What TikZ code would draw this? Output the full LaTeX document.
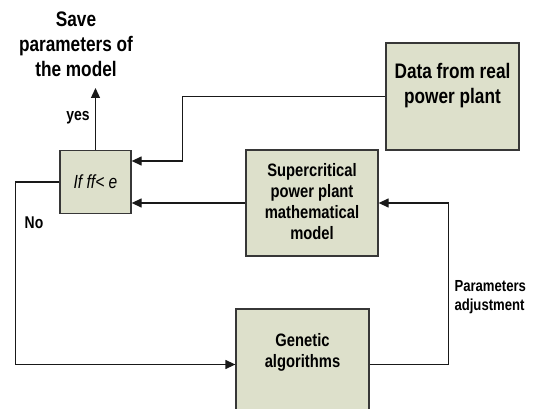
\documentclass[tikz,border=0pt]{standalone}
\usepackage{fontspec}
\setmainfont{Liberation Sans}[FakeStretch=0.82]
\usetikzlibrary{arrows.meta,calc}
\definecolor{boxfill}{RGB}{221,224,203}
\definecolor{boxline}{RGB}{55,55,55}
\tikzset{
  block/.style={draw=boxline, fill=boxfill, line width=1.3pt, inner sep=0pt},
  boxtext/.style={align=center, font=\bfseries\fontsize{18}{21}\selectfont},
  bigtext/.style={align=center, font=\bfseries\fontsize{21}{25}\selectfont},
  tag/.style={font=\bfseries\fontsize{17}{20}\selectfont},
  link/.style={line width=1.3pt, draw=black!90, -{Triangle[length=10pt,width=9pt]}},
}
\begin{document}
\begin{tikzpicture}[x=1pt, y=-1pt]
  \useasboundingbox (0,0) rectangle (538,409);
  \clip (0,0) rectangle (538,409);

  % process blocks
  \node[block, minimum width=71pt, minimum height=63pt] (ifbox) at (95.5,182)
    {\fontsize{19}{22}\selectfont\itshape If ff< e};
  \node[block, minimum width=133pt, minimum height=107pt] (data) at (452.5,96.5) {};
  \node[bigtext] (datatext) at (452.5,85.5) {Data from real\\power plant};
  \node[block, minimum width=132pt, minimum height=106pt] (model) at (312,203) {};
  \node[boxtext] (modeltext) at (312,201.5)
    {Supercritical\\power plant\\mathematical\\model};
  \node[block, minimum width=133pt, minimum height=111pt] (ga) at (302.5,364.5) {};
  \node[boxtext] (gatext) at (302.5,352.5) {Genetic\\algorithms};

  % free texts
  \node[bigtext] (save) at (76,44) {Save\\parameters of\\the model};
  \coordinate (yestip) at (95.5,88);
  \node[tag] (yes) at (78,118) {yes};
  \node[tag] (no) at (34,223) {No};
  \node[tag, align=left, anchor=west, font=\bfseries\fontsize{16}{19}\selectfont]
    (adj) at (451,297) {Parameters\\adjustment};

  % connectors
  \draw[link] (ifbox.north) -- (yestip);
  \draw[link] (data.west) -- ++(-203,0) |- ([yshift=21pt]ifbox.east);
  \draw[link] (model.west) -- (model.west -| ifbox.east);
  \draw[link] (ifbox.west) -- ++(-44,0) |- (ga.west);
  \draw[link] (ga.east) -- ++(79,0) |- (model.east);
\end{tikzpicture}
\end{document}
